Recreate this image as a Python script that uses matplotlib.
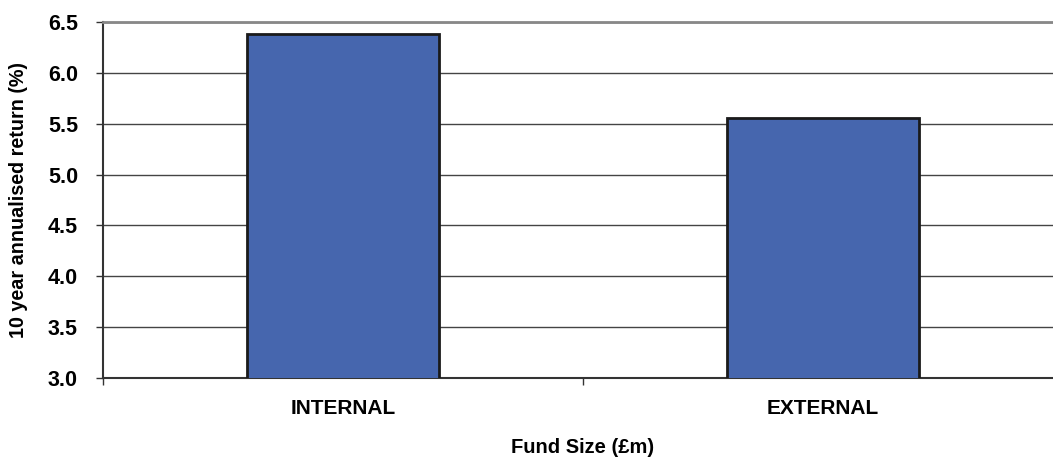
import matplotlib
matplotlib.use("Agg")
import matplotlib.pyplot as plt
from matplotlib.ticker import FixedLocator

categories = ["INTERNAL", "EXTERNAL"]
returns = [6.38, 5.56]
y_ticks = [3.0, 3.5, 4.0, 4.5, 5.0, 5.5, 6.0, 6.5]

plt.rcParams["font.family"] = ["Liberation Sans", "DejaVu Sans"]
plt.rcParams["font.weight"] = "bold"

fig = plt.figure(figsize=(10.53, 4.57), dpi=100)
ax = fig.add_axes([103 / 1053, 79 / 457, 960 / 1053, 356 / 457])

x = list(range(len(categories)))
ax.bar(x, returns, width=0.4, color="#4666AE", edgecolor="#1a1a1a",
       linewidth=2.0, zorder=3)

ax.set_xlim(-0.5, len(categories) - 0.5)
ax.set_ylim(3.0, 6.5)
ax.set_yticks(y_ticks)
ax.set_yticklabels([f"{v:.1f}" for v in y_ticks])
ax.yaxis.grid(True, color="#444444", linewidth=1.0, zorder=0)

ax.set_xticks(x)
ax.set_xticklabels(categories, fontsize=15, fontweight="bold")
ax.tick_params(axis="x", length=0, pad=15)
ax.xaxis.set_minor_locator(FixedLocator([-0.5, 0.5]))
ax.tick_params(axis="x", which="minor", length=5, width=1, color="#333333")
ax.tick_params(axis="y", length=5, width=1, color="#333333", labelsize=15.5,
               pad=13)
for lbl in ax.get_yticklabels():
    lbl.set_fontweight("bold")

ax.spines["top"].set_color("#888888")
ax.spines["top"].set_linewidth(2.0)
ax.spines["right"].set_visible(False)
ax.spines["left"].set_color("#333333")
ax.spines["left"].set_linewidth(1.5)
ax.spines["bottom"].set_color("#333333")
ax.spines["bottom"].set_linewidth(1.5)

ax.set_ylabel("10 year annualised return (%)", fontsize=14.2, fontweight="bold",
              va="center")
ax.yaxis.set_label_coords(-0.0885, 0.5)
ax.set_xlabel("Fund Size (£m)", fontsize=14.5, fontweight="bold", va="center")
ax.xaxis.set_label_coords(0.5, -0.194)

fig.savefig("out.png", dpi=100)
